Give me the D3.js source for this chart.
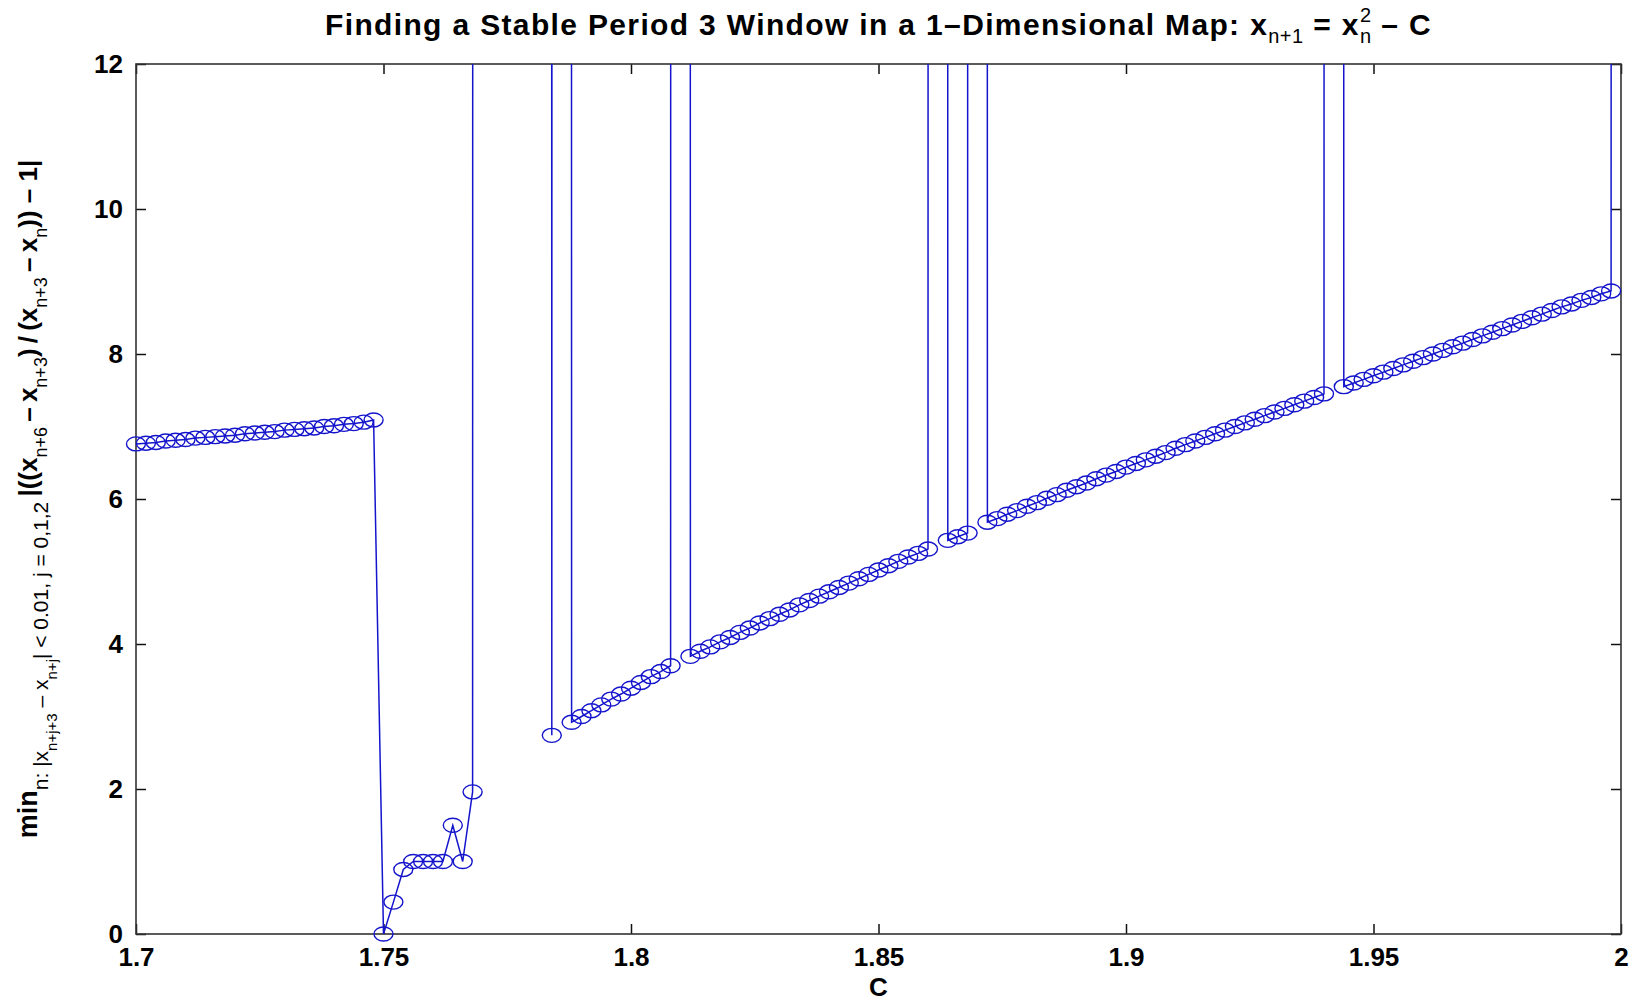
<!DOCTYPE html>
<html>
<head>
<meta charset="utf-8">
<script src="https://cdn.jsdelivr.net/npm/d3@7"></script>
<style>
  body { margin: 0; background: #fff; }
  text { font-family: "Liberation Sans", Arial, Helvetica, sans-serif; fill: #000; }
</style>
</head>
<body>
<svg id="chart" width="1641" height="1001"></svg>
<script>
// C values swept in the map x(n+1) = x(n)^2 - C
const cValues = [
  1.700,1.702,1.704,1.706,1.708,1.710,1.712,1.714,1.716,1.718,
  1.720,1.722,1.724,1.726,1.728,1.730,1.732,1.734,1.736,1.738,
  1.740,1.742,1.744,1.746,1.748,1.750,1.752,1.754,1.756,1.758,
  1.760,1.762,1.764,1.766,1.768,1.770,1.772,1.774,1.776,1.778,
  1.780,1.782,1.784,1.786,1.788,1.790,1.792,1.794,1.796,1.798,
  1.800,1.802,1.804,1.806,1.808,1.810,1.812,1.814,1.816,1.818,
  1.820,1.822,1.824,1.826,1.828,1.830,1.832,1.834,1.836,1.838,
  1.840,1.842,1.844,1.846,1.848,1.850,1.852,1.854,1.856,1.858,
  1.860,1.862,1.864,1.866,1.868,1.870,1.872,1.874,1.876,1.878,
  1.880,1.882,1.884,1.886,1.888,1.890,1.892,1.894,1.896,1.898,
  1.900,1.902,1.904,1.906,1.908,1.910,1.912,1.914,1.916,1.918,
  1.920,1.922,1.924,1.926,1.928,1.930,1.932,1.934,1.936,1.938,
  1.940,1.942,1.944,1.946,1.948,1.950,1.952,1.954,1.956,1.958,
  1.960,1.962,1.964,1.966,1.968,1.970,1.972,1.974,1.976,1.978,
  1.980,1.982,1.984,1.986,1.988,1.990,1.992,1.994,1.996,1.998,
  2.000
];

// min |((x(n+6)-x(n+3))/(x(n+3)-x(n))) - 1|, 1000 = far off the top of the axes
const ratioValues = [
  6.76,6.77,6.78,6.80,6.81,6.82,6.84,6.85,6.86,6.87,
  6.88,6.90,6.91,6.92,6.93,6.95,6.96,6.97,6.98,7.00,
  7.01,7.03,7.04,7.06,7.09,0.00,0.44,0.89,1.00,1.00,
  1.00,1.00,1.50,1.00,1.96,1000,1000,1000,1000,1000,
  1000,1000,2.74,1000,2.92,3.00,3.08,3.16,3.24,3.31,
  3.39,3.47,3.55,3.62,3.70,1000,3.83,3.90,3.96,4.03,
  4.09,4.16,4.22,4.29,4.35,4.41,4.47,4.54,4.60,4.66,
  4.72,4.78,4.84,4.90,4.96,5.02,5.08,5.14,5.20,5.25,
  5.31,1000,5.43,5.48,5.53,1000,5.68,5.73,5.79,5.84,
  5.90,5.95,6.01,6.06,6.12,6.17,6.22,6.28,6.33,6.38,
  6.44,6.49,6.54,6.59,6.64,6.70,6.75,6.80,6.85,6.90,
  6.95,7.00,7.05,7.10,7.15,7.20,7.25,7.30,7.35,7.40,
  7.45,1000,7.55,7.60,7.65,7.70,7.75,7.80,7.85,7.90,
  7.95,8.00,8.05,8.10,8.15,8.20,8.25,8.30,8.35,8.40,
  8.45,8.50,8.55,8.60,8.65,8.69,8.74,8.78,8.83,8.87,
  1000
];

const xTicks = [1.7, 1.75, 1.8, 1.85, 1.9, 1.95, 2];
const xTickLabels = ["1.7", "1.75", "1.8", "1.85", "1.9", "1.95", "2"];
const yTicks = [0, 2, 4, 6, 8, 10, 12];
const yTickLabels = ["0", "2", "4", "6", "8", "10", "12"];

const blue = "#1414cc";

const svg = d3.select("#chart");
const x = d3.scaleLinear().domain([1.7, 2]).range([136, 1621]);
const y = d3.scaleLinear().domain([0, 12]).range([934, 64]);

const data = cValues.map((c, i) => ({c: c, v: ratioValues[i]}));

// clip the line to the axes box
svg.append("clipPath").attr("id", "plotclip")
  .append("rect")
  .attr("x", x(1.7)).attr("y", y(12))
  .attr("width", x(2) - x(1.7)).attr("height", y(0) - y(12));

// axes ticks (inside, on all four sides like matlab)
const tickLen = 10;
function styleAxis(g) {
  g.select(".domain").remove();
  g.selectAll(".tick line").attr("stroke", "#111").attr("stroke-width", 1.5);
  g.selectAll(".tick text").attr("font-size", 26).attr("font-weight", "bold").attr("fill", "#000");
}
svg.append("g").attr("transform", `translate(0,${y(0)})`)
  .call(d3.axisBottom(x).tickValues(xTicks).tickFormat((d, i) => xTickLabels[i])
    .tickSizeInner(-tickLen).tickSizeOuter(0).tickPadding(14))
  .call(styleAxis);
svg.append("g").attr("transform", `translate(0,${y(12)})`)
  .call(d3.axisTop(x).tickValues(xTicks).tickFormat("").tickSizeInner(-tickLen).tickSizeOuter(0))
  .call(styleAxis);
svg.append("g").attr("transform", `translate(${x(1.7)},0)`)
  .call(d3.axisLeft(y).tickValues(yTicks).tickFormat((d, i) => yTickLabels[i])
    .tickSizeInner(-tickLen).tickSizeOuter(0).tickPadding(13))
  .call(styleAxis);
svg.append("g").attr("transform", `translate(${x(2)},0)`)
  .call(d3.axisRight(y).tickValues(yTicks).tickFormat("").tickSizeInner(-tickLen).tickSizeOuter(0))
  .call(styleAxis);

// box
svg.append("rect")
  .attr("x", x(1.7)).attr("y", y(12))
  .attr("width", x(2) - x(1.7)).attr("height", y(0) - y(12))
  .attr("fill", "none").attr("stroke", "#333").attr("stroke-width", 1.6);

// data line
const line = d3.line().x(d => x(d.c)).y(d => y(d.v));
svg.append("path")
  .datum(data)
  .attr("clip-path", "url(#plotclip)")
  .attr("d", line)
  .attr("fill", "none")
  .attr("stroke", blue)
  .attr("stroke-width", 1.5);

// circle markers (only the ones inside the y range)
svg.append("g").selectAll("ellipse")
  .data(data.filter(d => d.v <= 12))
  .join("ellipse")
  .attr("cx", d => x(d.c))
  .attr("cy", d => y(d.v))
  .attr("rx", 9.5)
  .attr("ry", 7)
  .attr("fill", "none")
  .attr("stroke", blue)
  .attr("stroke-width", 1.4);

// rich text helper: parts are [string, level, dx]
function richText(sel, parts, levels) {
  let cur = 0;
  parts.forEach(p => {
    const lv = levels[p[1]];
    const t = sel.append("tspan")
      .text(p[0])
      .attr("font-size", lv.size)
      .attr("font-weight", lv.weight)
      .attr("letter-spacing", lv.spacing || 0)
      .attr("dy", lv.shift - cur);
    if (p[2]) t.attr("dx", p[2]);
    cur = lv.shift;
  });
}

// title
const titleLevels = {
  main: {size: 30, shift: 0, weight: "bold", spacing: 1.35},
  sub: {size: 20, shift: 8, weight: "normal", spacing: 0.5},
  sup: {size: 20, shift: -13, weight: "normal", spacing: 0}
};
const title = svg.append("text")
  .attr("x", (x(1.7) + x(2)) / 2)
  .attr("y", 35)
  .attr("text-anchor", "middle");
richText(title, [
  ["Finding a Stable Period 3 Window in a 1–Dimensional Map: x", "main"],
  ["n+1", "sub"],
  [" = x", "main"],
  ["2", "sup"],
  ["n", "sub", -11.1],
  [" – C", "main"]
], titleLevels);

// x label
svg.append("text")
  .attr("x", (x(1.7) + x(2)) / 2)
  .attr("y", 996)
  .attr("text-anchor", "middle")
  .attr("font-size", 26)
  .attr("font-weight", "bold")
  .text("C");

// y label
const yLevels = {
  main: {size: 27, shift: 0, weight: "bold"},
  big: {size: 26, shift: 0, weight: "bold"},
  sub: {size: 21, shift: 11, weight: "normal"},
  sub2: {size: 18, shift: 10, weight: "normal"},
  subsub: {size: 15, shift: 20, weight: "normal"}
};
const ylab = svg.append("text")
  .attr("transform", `translate(37,${(y(0) + y(12)) / 2}) rotate(-90)`)
  .attr("text-anchor", "middle");
richText(ylab, [
  ["min", "main"],
  ["n: |x", "sub"],
  ["n+j+3", "subsub"],
  [" – x", "sub"],
  ["n+j", "subsub"],
  ["| < 0.01, j = 0,1,2", "sub"],
  ["\u2009|((x", "big"],
  ["n+6", "sub2"],
  ["\u2009–\u2009x", "big"],
  ["n+3", "sub2"],
  [")\u2009/\u2009(x", "big"],
  ["n+3", "sub2"],
  ["\u2009–\u2009x", "big"],
  ["n", "sub2"],
  [")) – 1|", "big"]
], yLevels);
</script>
</body>
</html>
